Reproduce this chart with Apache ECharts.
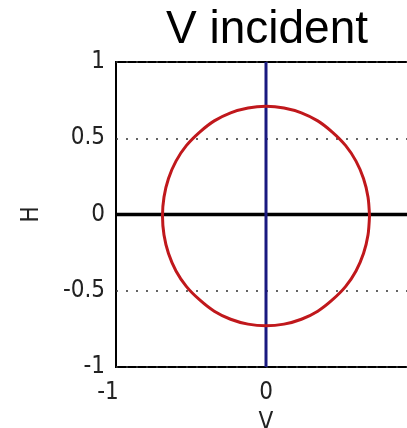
<!DOCTYPE html>
<html>
<head>
<meta charset="utf-8">
<script src="https://cdn.jsdelivr.net/npm/echarts@6/dist/echarts.min.js"></script>
<style>
  html, body { margin: 0; padding: 0; background: #fff; }
  #chart { width: 407px; height: 428px; }
</style>
</head>
<body>
<div id="chart"></div>
<script>
// Polarisation trace (V, H) for a V-incident wave, sampled every 10 degrees around the loop
const traceV = [0.69, 0.68, 0.65, 0.60, 0.53, 0.44, 0.345, 0.236, 0.12, 0.00,
                -0.12, -0.236, -0.345, -0.44, -0.53, -0.60, -0.65, -0.68, -0.69,
                -0.68, -0.65, -0.60, -0.53, -0.44, -0.345, -0.236, -0.12, 0.00,
                0.12, 0.236, 0.345, 0.44, 0.53, 0.60, 0.65, 0.68, 0.69];
const traceH = [-0.01, 0.115, 0.236, 0.35, 0.453, 0.542, 0.614, 0.667, 0.699, 0.71,
                0.699, 0.667, 0.614, 0.542, 0.453, 0.35, 0.236, 0.115, -0.01,
                -0.135, -0.256, -0.37, -0.473, -0.562, -0.634, -0.687, -0.719, -0.73,
                -0.719, -0.687, -0.634, -0.562, -0.473, -0.37, -0.256, -0.135, -0.01];

// Reference axes drawn through the origin
const zeroLineV = [-1, 1];
const zeroLineH = [0, 0];
const vertLineV = [0, 0];
const vertLineH = [-1, 1];

// Tick values
const xTicks = [-1, 0, 1];
const yTicks = [-1, -0.5, 0, 0.5, 1];

const zip = (a, b) => a.map((v, i) => [v, b[i]]);

const tickFont = {
  fontFamily: '"DejaVu Sans Condensed", "DejaVu Sans", sans-serif',
  fontSize: 24,
  color: '#222'
};

const chart = echarts.init(document.getElementById('chart'), null, { renderer: 'canvas' });

chart.setOption({
  backgroundColor: '#ffffff',
  animation: false,
  title: {
    text: 'V incident',
    left: 262,
    textAlign: 'center',
    top: 2,
    textStyle: {
      fontFamily: '"Liberation Sans", Arial, sans-serif',
      fontSize: 46,
      fontWeight: 'normal',
      color: '#000'
    }
  },
  grid: {
    left: 116,
    top: 62,
    width: 300,
    height: 305,
    containLabel: false,
    outerBoundsMode: 'none',
    show: true,
    borderColor: '#000',
    borderWidth: 2,
    backgroundColor: '#fff'
  },
  xAxis: {
    type: 'value',
    min: xTicks[0],
    max: xTicks[xTicks.length - 1],
    interval: 1,
    name: 'V',
    nameLocation: 'middle',
    nameGap: 44,
    nameTextStyle: tickFont,
    axisLine: { show: false },
    axisTick: { show: false },
    splitLine: { show: false },
    axisLabel: Object.assign({
      margin: 14,
      // negative end label sits with its digit near the tick
      formatter: v => (v < 0 ? '{neg|' + v + '}' : String(v)),
      rich: { neg: Object.assign({ padding: [0, 16, 0, 0] }, tickFont) }
    }, tickFont)
  },
  yAxis: {
    type: 'value',
    min: yTicks[0],
    max: yTicks[yTicks.length - 1],
    interval: 0.5,
    name: 'H',
    nameLocation: 'middle',
    nameGap: 72,
    nameTextStyle: tickFont,
    axisLine: { show: false },
    axisTick: { show: false },
    splitLine: {
      show: true,
      lineStyle: { color: '#333', width: 1.5, type: [2, 8] }
    },
    axisLabel: Object.assign({ margin: 11 }, tickFont)
  },
  series: [
    {
      type: 'line',
      data: zip(zeroLineV, zeroLineH),
      symbol: 'none',
      lineStyle: { color: '#000', width: 3.5 },
      silent: true,
      z: 2
    },
    {
      type: 'line',
      data: zip(vertLineV, vertLineH),
      symbol: 'none',
      lineStyle: { color: '#1a1a80', width: 3 },
      silent: true,
      z: 3
    },
    {
      type: 'line',
      data: zip(traceV, traceH),
      symbol: 'none',
      smooth: 0.3,
      lineStyle: { color: '#c0181c', width: 3 },
      silent: true,
      z: 4
    }
  ]
});
</script>
</body>
</html>
